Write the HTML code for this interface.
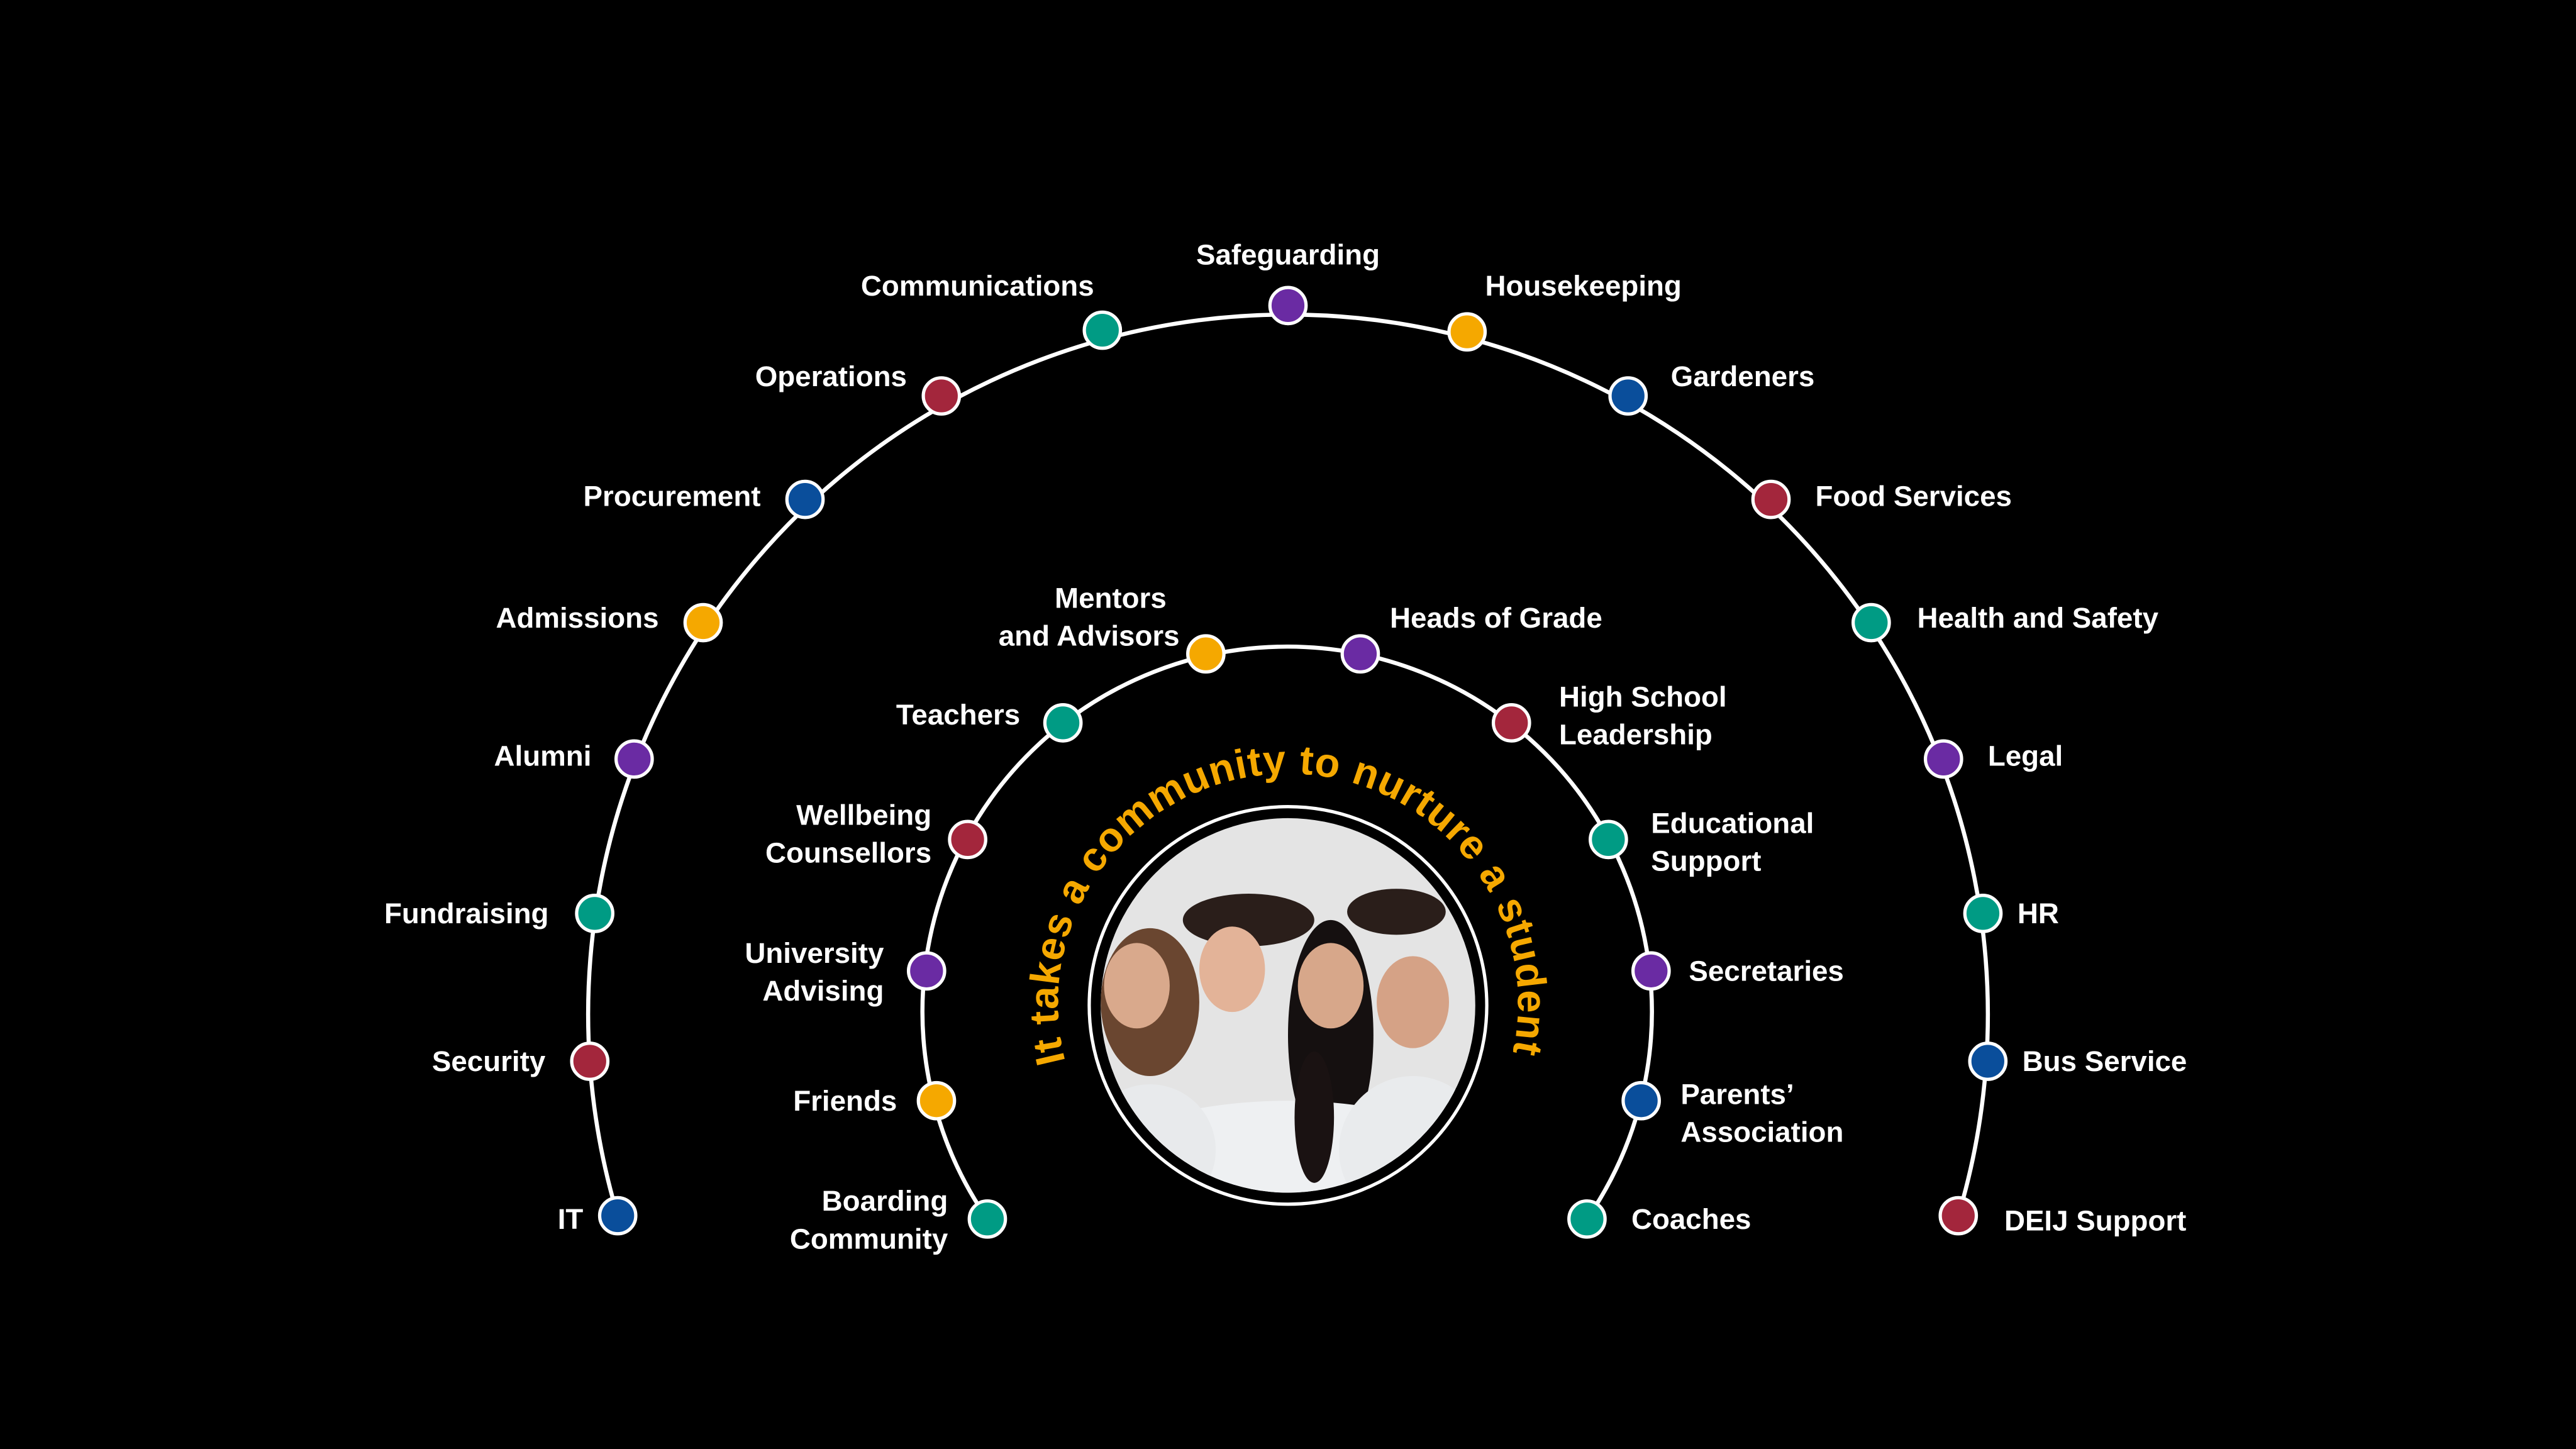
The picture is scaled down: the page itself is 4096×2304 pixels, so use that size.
<!DOCTYPE html>
<html><head><meta charset="utf-8"><style>
html,body{margin:0;padding:0;background:#000;}
svg{display:block;}
text{font-family:"Liberation Sans",sans-serif;font-weight:bold;fill:#fff;font-size:17.5px;}
.r{text-anchor:end}.m{text-anchor:middle}
</style></head><body>
<svg width="4096" height="2304" viewBox="0 0 1568 882" xmlns="http://www.w3.org/2000/svg">
<rect width="1568" height="882" fill="#000"/>
<path d="M376,740 A426,426 0 1 1 1192,740" fill="none" stroke="#fff" stroke-width="2.5"/>
<path d="M601,742 A222,222 0 1 1 966,742" fill="none" stroke="#fff" stroke-width="2.5"/>
<defs>
<clipPath id="c"><circle cx="784" cy="612" r="114"/></clipPath>
<path id="tp" d="M649,648 A140,140 0 1 1 919,648"/>
</defs>
<circle cx="784" cy="612" r="121" fill="none" stroke="#fff" stroke-width="2"/>
<g clip-path="url(#c)">
<rect x="660" y="490" width="250" height="250" fill="#e4e4e4"/>
<ellipse cx="760" cy="560" rx="40" ry="16" fill="#2a1e1a"/>
<ellipse cx="850" cy="555" rx="30" ry="14" fill="#2a1e1a"/>
<ellipse cx="700" cy="610" rx="30" ry="45" fill="#6a4630"/>
<ellipse cx="692" cy="600" rx="20" ry="26" fill="#d9a98c"/>
<ellipse cx="750" cy="590" rx="20" ry="26" fill="#e3b398"/>
<ellipse cx="810" cy="630" rx="26" ry="70" fill="#151010"/>
<ellipse cx="810" cy="600" rx="20" ry="26" fill="#d7a78a"/>
<ellipse cx="860" cy="610" rx="22" ry="28" fill="#d5a286"/>
<ellipse cx="784" cy="730" rx="140" ry="60" fill="#eef0f2"/>
<ellipse cx="700" cy="700" rx="40" ry="40" fill="#e8eaec"/>
<ellipse cx="860" cy="700" rx="45" ry="45" fill="#e9ebed"/>
<ellipse cx="800" cy="680" rx="12" ry="40" fill="#1a1212"/>
</g>
<text style="font-size:25px;fill:#f5a800"><textPath href="#tp" startOffset="2" textLength="505" lengthAdjust="spacing">It takes a community to nurture a student</textPath></text>
<g stroke="#fff" stroke-width="2">
<circle cx="376" cy="740" r="11" fill="#0a4e9b"/>
<circle cx="359" cy="646" r="11" fill="#a3263c"/>
<circle cx="362" cy="556" r="11" fill="#009b84"/>
<circle cx="386" cy="462" r="11" fill="#6a2ba3"/>
<circle cx="428" cy="379" r="11" fill="#f5a800"/>
<circle cx="490" cy="304" r="11" fill="#0a4e9b"/>
<circle cx="573" cy="241" r="11" fill="#a3263c"/>
<circle cx="671" cy="201" r="11" fill="#009b84"/>
<circle cx="784" cy="186" r="11" fill="#6a2ba3"/>
<circle cx="893" cy="202" r="11" fill="#f5a800"/>
<circle cx="991" cy="241" r="11" fill="#0a4e9b"/>
<circle cx="1078" cy="304" r="11" fill="#a3263c"/>
<circle cx="1139" cy="379" r="11" fill="#009b84"/>
<circle cx="1183" cy="462" r="11" fill="#6a2ba3"/>
<circle cx="1207" cy="556" r="11" fill="#009b84"/>
<circle cx="1210" cy="646" r="11" fill="#0a4e9b"/>
<circle cx="1192" cy="740" r="11" fill="#a3263c"/>
<circle cx="601" cy="742" r="11" fill="#009b84"/>
<circle cx="570" cy="670" r="11" fill="#f5a800"/>
<circle cx="564" cy="591" r="11" fill="#6a2ba3"/>
<circle cx="589" cy="511" r="11" fill="#a3263c"/>
<circle cx="647" cy="440" r="11" fill="#009b84"/>
<circle cx="734" cy="398" r="11" fill="#f5a800"/>
<circle cx="828" cy="398" r="11" fill="#6a2ba3"/>
<circle cx="920" cy="440" r="11" fill="#a3263c"/>
<circle cx="979" cy="511" r="11" fill="#009b84"/>
<circle cx="1005" cy="591" r="11" fill="#6a2ba3"/>
<circle cx="999" cy="670" r="11" fill="#0a4e9b"/>
<circle cx="966" cy="742" r="11" fill="#009b84"/>
</g>
<text class="r" x="355" y="748">IT</text>
<text class="r" x="332" y="652">Security</text>
<text class="r" x="334" y="562">Fundraising</text>
<text class="r" x="360" y="466">Alumni</text>
<text class="r" x="401" y="382">Admissions</text>
<text class="r" x="463" y="308">Procurement</text>
<text class="r" x="552" y="235">Operations</text>
<text class="m" x="595" y="180">Communications</text>
<text class="m" x="784" y="161">Safeguarding</text>
<text x="904" y="180">Housekeeping</text>
<text x="1017" y="235">Gardeners</text>
<text x="1105" y="308">Food Services</text>
<text x="1167" y="382">Health and Safety</text>
<text x="1210" y="466">Legal</text>
<text x="1228" y="562">HR</text>
<text x="1231" y="652">Bus Service</text>
<text x="1220" y="749">DEIJ Support</text>
<text class="r" x="577" y="737">Boarding</text>
<text class="r" x="577" y="760">Community</text>
<text class="r" x="546" y="676">Friends</text>
<text class="r" x="538" y="586">University</text>
<text class="r" x="538" y="609">Advising</text>
<text class="r" x="567" y="502">Wellbeing</text>
<text class="r" x="567" y="525">Counsellors</text>
<text class="r" x="621" y="441">Teachers</text>
<text class="m" x="676" y="370">Mentors</text>
<text class="r" x="718" y="393">and Advisors</text>
<text x="846" y="382">Heads of Grade</text>
<text x="949" y="430">High School</text>
<text x="949" y="453">Leadership</text>
<text x="1005" y="507">Educational</text>
<text x="1005" y="530">Support</text>
<text x="1028" y="597">Secretaries</text>
<text x="1023" y="672">Parents’</text>
<text x="1023" y="695">Association</text>
<text x="993" y="748">Coaches</text>
</svg>
</body></html>
